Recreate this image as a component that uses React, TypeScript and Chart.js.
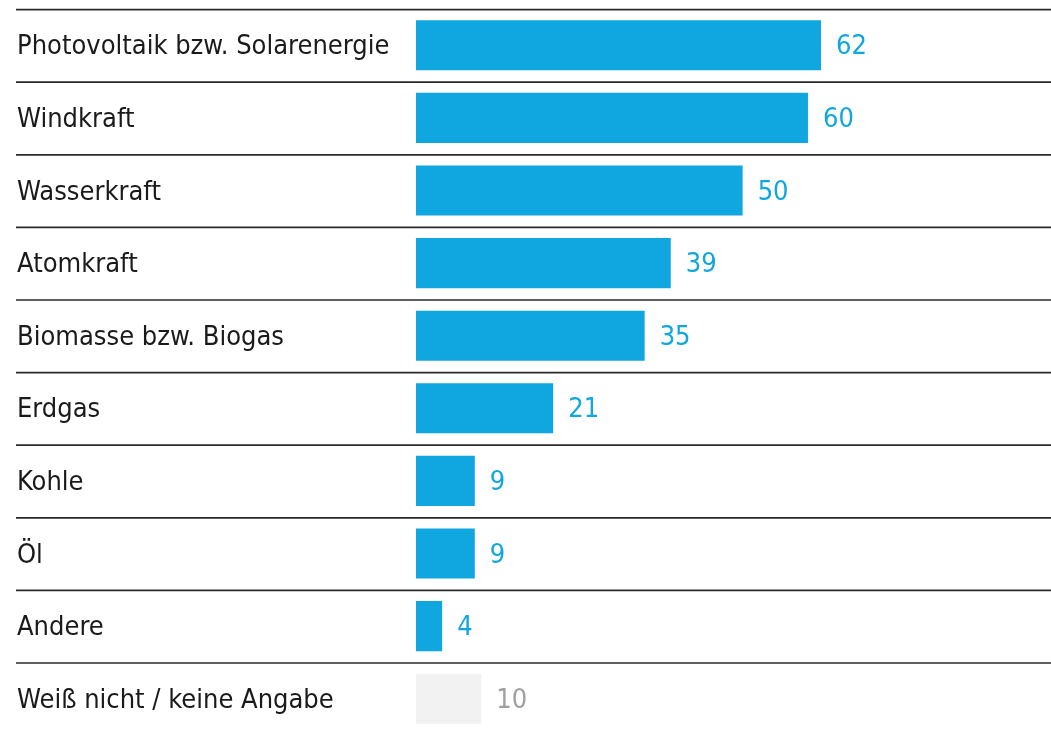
import React, { useEffect, useRef } from "react";
import { Chart, registerables } from "chart.js";

Chart.register(...registerables);

const categories = [
  "Photovoltaik bzw. Solarenergie",
  "Windkraft",
  "Wasserkraft",
  "Atomkraft",
  "Biomasse bzw. Biogas",
  "Erdgas",
  "Kohle",
  "Öl",
  "Andere",
  "Weiß nicht / keine Angabe",
];
const values = [62, 60, 50, 39, 35, 21, 9, 9, 4, 10];
const barColors = [
  "#10A6DF", "#10A6DF", "#10A6DF", "#10A6DF", "#10A6DF",
  "#10A6DF", "#10A6DF", "#10A6DF", "#10A6DF", "#F2F2F2",
];
const valueColors = [
  "#10A6DF", "#10A6DF", "#10A6DF", "#10A6DF", "#10A6DF",
  "#10A6DF", "#10A6DF", "#10A6DF", "#10A6DF", "#A0A0A0",
];

const FONT = "'DejaVu Sans Condensed', 'Liberation Sans', sans-serif";

const rowPlugin = {
  id: "rowPlugin",
  afterDatasetsDraw(chart: any) {
    const ctx = chart.ctx;
    const y = chart.scales.y;
    const area = chart.chartArea;
    const n = categories.length;
    const step = (area.bottom - area.top) / n;
    ctx.save();
    ctx.strokeStyle = "#2a2a2a";
    ctx.lineWidth = 1.7;
    for (let i = 0; i <= n; i++) {
      const yy = y.getPixelForValue(0) - step / 2 + i * step + 0.6;
      ctx.beginPath();
      ctx.moveTo(16, yy);
      ctx.lineTo(chart.width, yy);
      ctx.stroke();
    }
    const meta = chart.getDatasetMeta(0);
    ctx.font = `27px ${FONT}`;
    ctx.textAlign = "left";
    ctx.textBaseline = "middle";
    meta.data.forEach((bar: any, i: number) => {
      ctx.fillStyle = valueColors[i];
      ctx.fillText(String(values[i]), bar.x + 15, bar.y + 2);
    });
    ctx.restore();
  },
};

export default function App() {
  const ref = useRef<HTMLCanvasElement>(null);
  useEffect(() => {
    if (!ref.current) return;
    const chart = new Chart(ref.current, {
      type: "bar",
      data: {
        labels: categories,
        datasets: [
          {
            data: values,
            backgroundColor: barColors,
            borderWidth: 0,
            barPercentage: 0.69,
            categoryPercentage: 1,
          },
        ],
      },
      options: {
        indexAxis: "y",
        animation: false,
        responsive: false,
        layout: { padding: { left: 17, top: 9, right: 0, bottom: 10 } },
        plugins: { legend: { display: false }, tooltip: { enabled: false } },
        scales: {
          x: { display: false, min: 0, max: 97.2 },
          y: {
            grid: { display: false, drawTicks: false },
            border: { display: false },
            afterFit: (s: any) => {
              s.width = 416 - 17;
              s.paddingTop = 0;
              s.paddingBottom = 0;
            },
            ticks: {
              autoSkip: false,
              crossAlign: "far",
              labelOffset: 2,
              padding: 0,
              color: "#1a1a1a",
              font: { family: FONT, size: 27 },
            },
          },
        },
      },
      plugins: [rowPlugin],
    });
    return () => chart.destroy();
  }, []);
  return (
    <div style={{ position: "fixed", left: 0, top: 0, width: 1051, height: 729, overflow: "hidden", background: "#fff" }}>
      <canvas ref={ref} width={1051} height={745} style={{ display: "block" }} />
    </div>
  );
}
